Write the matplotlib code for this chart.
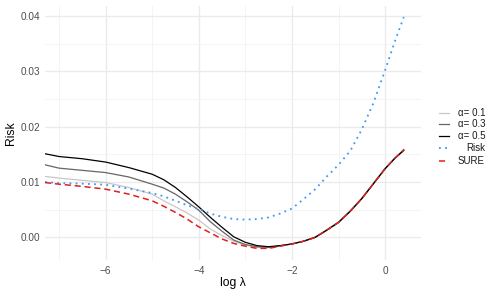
import numpy as np
import matplotlib
matplotlib.use("Agg")
import matplotlib.pyplot as plt
from matplotlib.lines import Line2D

plt.rcParams['font.family'] = ['Liberation Sans', 'DejaVu Sans']

# log lambda grid
log_lambda = [-7.3, -7.0, -6.5, -6.0, -5.5, -5.0, -4.75, -4.5, -4.25, -4.0,
              -3.75, -3.5, -3.25, -3.0, -2.75, -2.5, -2.25, -2.0, -1.75, -1.5,
              -1.25, -1.0, -0.75, -0.5, -0.25, 0.0, 0.2, 0.4]

alpha_01 = [0.0110, 0.0107, 0.0103, 0.0099, 0.0090, 0.0078, 0.0066, 0.0055, 0.0044, 0.0031,
            0.0015, 0.0003, -0.0007, -0.0014, -0.0018, -0.0019, -0.0016, -0.0012, -0.0007, 0.0001,
            0.0014, 0.0028, 0.0048, 0.0071, 0.0098, 0.0125, 0.0143, 0.0159]
alpha_03 = [0.0131, 0.0125, 0.0121, 0.0117, 0.0109, 0.0096, 0.0089, 0.0078, 0.0064, 0.0049,
            0.0028, 0.0011, -0.0005, -0.0013, -0.0017, -0.0018, -0.0015, -0.0012, -0.0007, 0.0000,
            0.0013, 0.0027, 0.0047, 0.0070, 0.0097, 0.0124, 0.0142, 0.0158]
alpha_05 = [0.0151, 0.0146, 0.0142, 0.0136, 0.0126, 0.0114, 0.0104, 0.0090, 0.0073, 0.0055,
            0.0036, 0.0018, 0.0001, -0.0009, -0.0015, -0.0017, -0.0015, -0.0012, -0.0007, 0.0000,
            0.0013, 0.0027, 0.0047, 0.0070, 0.0097, 0.0124, 0.0142, 0.0157]
risk = [0.0100, 0.0098, 0.0097, 0.0095, 0.0088, 0.0080, 0.0074, 0.0066, 0.0058, 0.0051,
        0.0043, 0.0037, 0.0033, 0.0032, 0.0033, 0.0036, 0.0043, 0.0052, 0.0069, 0.0087,
        0.0110, 0.0131, 0.0156, 0.0195, 0.0243, 0.0302, 0.0352, 0.0398]
sure = [0.0099, 0.0096, 0.0092, 0.0087, 0.0078, 0.0066, 0.0056, 0.0045, 0.0033, 0.0019,
        0.0008, -0.0003, -0.0011, -0.0016, -0.0020, -0.0020, -0.0016, -0.0012, -0.0007, 0.0000,
        0.0013, 0.0027, 0.0047, 0.0070, 0.0097, 0.0124, 0.0142, 0.0158]

series_labels = ["\u03b1= 0.1", "\u03b1= 0.3", "\u03b1= 0.5", "Risk", "SURE"]
series_colors = ["#c8c8c8", "#666666", "#000000", "#3d97f5", "#e0201e"]
series_styles = ["-", "-", "-", (0, (1, 2.4)), (0, (4, 2.5))]
series_widths = [0.9, 0.9, 0.9, 1.3, 1.1]

fig = plt.figure(figsize=(4.98, 2.99), dpi=100)
ax = fig.add_axes([0.0904, 0.1304, 0.7550, 0.8496])

for vals, col, ls, lw in zip([alpha_01, alpha_03, alpha_05, risk, sure],
                             series_colors, series_styles, series_widths):
    ax.plot(log_lambda, vals, color=col, linestyle=ls, linewidth=lw)

ax.set_xlim(-7.3, 0.77)
ax.set_ylim(-0.0041, 0.0418)
ax.set_xticks([-6, -4, -2, 0])
ax.set_xticklabels(["\u22126", "\u22124", "\u22122", "0"])
ax.set_xticks([-7, -5, -3, -1], minor=True)
ax.set_yticks([0.00, 0.01, 0.02, 0.03, 0.04])
ax.set_yticklabels(["0.00", "0.01", "0.02", "0.03", "0.04"])
ax.set_yticks([0.005, 0.015, 0.025, 0.035], minor=True)

ax.grid(True, which="major", color="#ebebeb", linewidth=1.0)
ax.grid(True, which="minor", color="#f3f3f3", linewidth=0.6)
ax.set_axisbelow(True)
for s in ax.spines.values():
    s.set_visible(False)
ax.tick_params(which="both", length=0, labelsize=7.2, labelcolor="#4d4d4d")
ax.tick_params(axis="x", pad=4)
ax.tick_params(axis="y", pad=3.5)

ax.set_xlabel("log \u03bb", fontsize=8.7)
ax.set_ylabel("Risk", fontsize=8.7)
ax.xaxis.set_label_coords(0.5, -0.067)
ax.yaxis.set_label_coords(-0.075, 0.5)

# legend, drawn by hand so the labels sit right-aligned like ggplot's
key_y = [112.5, 124.3, 136.0, 148.3, 160.5]
W, H = 498.0, 299.0
for y, lab, col, ls, lw in zip(key_y, series_labels, series_colors, series_styles, series_widths):
    fy = 1 - y / H
    fig.add_artist(Line2D([439 / W, 449 / W], [fy, fy], color=col, linestyle=ls,
                          linewidth=lw, transform=fig.transFigure))
    fig.text(485 / W, fy, lab, ha="right", va="center", fontsize=7.0, color="#1a1a1a")

fig.savefig("out.png", dpi=100)
